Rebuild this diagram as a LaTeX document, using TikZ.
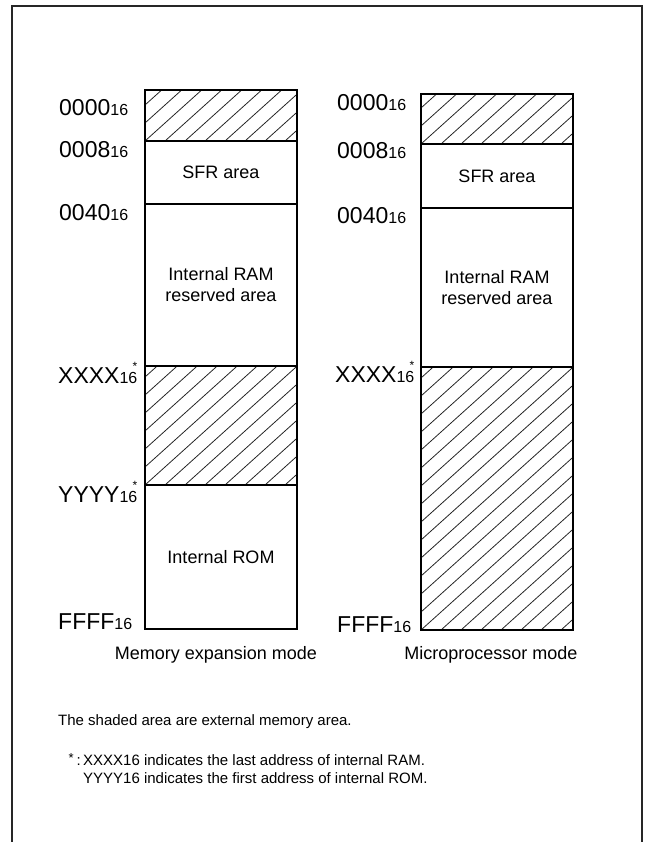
\documentclass[tikz,border=0pt]{standalone}
\usepackage{fontspec}
\setmainfont{Liberation Sans}
\newcommand\subn[1]{{\fontsize{16}{16}\selectfont #1}}
\newcommand\fnstar{\llap{\raisebox{13pt}{\fontsize{12}{12}\selectfont *}}}
\newcommand\hatchrect[4]{%
  \begin{scope}
    \clip (#1,#2) rectangle (#3,#4);
    \foreach \k in {-16,...,8} {\draw[hatchline] ({#1+\k*20},#4) -- ++(400,-360);}
  \end{scope}}
\tikzset{
  frameline/.style={line width=2pt, black!85},
  boxline/.style={line width=1.4pt, black},
  hatchline/.style={line width=0.8pt, black!85},
  txt/.style={inner sep=0pt, font=\fontsize{18}{21}\selectfont, align=center},
  addr/.style={inner sep=0pt, font=\fontsize{23}{23}\selectfont, anchor=base west},
  note/.style={inner sep=0pt, font=\fontsize{15}{18}\selectfont, anchor=base west}
}
\begin{document}
\begin{tikzpicture}[x=1pt,y=-1pt]
\useasboundingbox (0,0) rectangle (645,842);
% outer frame (open at bottom)
\draw[frameline] (12,842) -- (12,6) -- (642,6) -- (642,842);

% ---------- Memory expansion mode ----------
\hatchrect{145}{90}{297}{141}
\hatchrect{145}{366}{297}{485}
\draw[boxline] (145,90) rectangle (297,629);
\draw[boxline] (145,141) -- (297,141);
\draw[boxline] (145,204) -- (297,204);
\draw[boxline] (145,366) -- (297,366);
\draw[boxline] (145,485) -- (297,485);
\node[txt] (sfrL) at (221,172) {SFR area};
\node[txt] (ramL) at (221,285) {Internal RAM\\reserved area};
\node[txt] (romL) at (221,557) {Internal ROM};
\node[addr] (aL0) at (59,116) {0000\subn{16}};
\node[addr] (aL1) at (59,158) {0008\subn{16}};
\node[addr] (aL2) at (59,220) {0040\subn{16}};
\node[addr] (aL3) at (58,383) {XXXX\subn{16}\fnstar};
\node[addr] (aL4) at (58,502) {YYYY\subn{16}\fnstar};
\node[addr] (aL5) at (58,629) {FFFF\subn{16}};
\node[txt, anchor=base] (capL) at (216,659) {Memory expansion mode};

% ---------- Microprocessor mode ----------
\hatchrect{421}{94}{573}{144}
\hatchrect{421}{367}{573}{630}
\draw[boxline] (421,94) rectangle (573,630);
\draw[boxline] (421,144) -- (573,144);
\draw[boxline] (421,208) -- (573,208);
\draw[boxline] (421,367) -- (573,367);
\node[txt] (sfrR) at (497,176) {SFR area};
\node[txt] (ramR) at (497,288) {Internal RAM\\reserved area};
\node[addr] (aR0) at (337,111) {0000\subn{16}};
\node[addr] (aR1) at (337,159) {0008\subn{16}};
\node[addr] (aR2) at (337,223) {0040\subn{16}};
\node[addr] (aR3) at (335,382) {XXXX\subn{16}\fnstar};
\node[addr] (aR5) at (337,632) {FFFF\subn{16}};
\node[txt, anchor=base] (capR) at (491,659) {Microprocessor mode};

% ---------- notes ----------
\node[note] (n1) at (58,725) {The shaded area are external memory area.};
\node[note, anchor=base east] (n2s) at (81,765) {\raisebox{3pt}{\fontsize{13}{13}\selectfont *}\hspace{3pt}:};
\node[note] (n2) at (83,765) {XXXX16 indicates the last address of internal RAM.};
\node[note] (n3) at (83,783) {YYYY16 indicates the first address of internal ROM.};
\end{tikzpicture}
\end{document}
